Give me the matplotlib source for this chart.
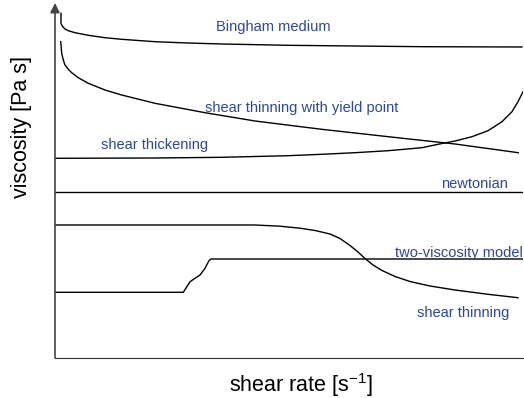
import matplotlib
matplotlib.use("Agg")
import matplotlib.pyplot as plt

plt.rcParams["font.family"] = ["Liberation Sans", "DejaVu Sans"]

# Flow curves (viscosity vs shear rate, arbitrary units)
bingham_x = [6, 6, 6.7, 8.3, 10, 13.3, 20, 33.3, 50, 66.7, 100, 133, 167,
             233, 300, 367, 467]
bingham_y = [344.7, 334.7, 333, 330.7, 329, 327.3, 325.3, 322.7, 320.3, 318.7,
             316.3, 315, 314, 312.7, 312, 311.3, 311]

yield_x = [5.7, 6.7, 8.3, 10, 13.3, 16.7, 23.3, 33.3, 50, 66.7, 100, 150,
           200, 266.7, 333.3, 400, 463.3]
yield_y = [316.3, 304.7, 298, 293, 288.7, 285.3, 280.3, 274.7, 268, 263,
           254.7, 245.3, 237, 228.7, 221.3, 214, 205.3]

thick_x = [0, 100, 167, 233, 267, 300, 333, 367, 383, 400, 417, 433, 447,
           457, 463, 468]
thick_y = [199.7, 200, 200.7, 202.3, 203.7, 205.3, 207.3, 210.3, 213.7, 217,
           221.3, 227.3, 236.3, 246.3, 256.3, 266.3]

newton_x = [0, 468]
newton_y = [166, 166]

thin_x = [0, 200, 225, 245, 260, 275, 285, 295, 303, 310, 318, 327, 340,
          355, 375, 400, 433, 463]
thin_y = [133, 133, 131.8, 129.8, 127.5, 124, 119.5, 112.5, 106, 99.5, 93,
          87.5, 81.5, 76.5, 72, 68, 63.7, 60.3]

twovisc_x = [0, 128.3, 135, 140, 145, 150, 154, 156, 468]
twovisc_y = [65.7, 65.7, 76.3, 79.7, 83, 89.7, 97.3, 99, 99]

label_color = "#2a45b0"

fig = plt.figure(figsize=(5.24, 3.98), dpi=100)
ax = fig.add_axes([55 / 524, 40 / 398, 468 / 524, 355 / 398])

for xs, ys in [(bingham_x, bingham_y), (yield_x, yield_y), (thick_x, thick_y),
               (newton_x, newton_y), (thin_x, thin_y), (twovisc_x, twovisc_y)]:
    ax.plot(xs, ys, color="black", lw=1.0, solid_joinstyle="round")

ax.set_xlim(0, 468)
ax.set_ylim(0, 355)

txt = dict(color=label_color, fontsize=10.5, va="center")
ax.text(218, 331, "Bingham medium", ha="center", **txt)
ax.text(150, 250, "shear thinning with yield point", ha="left", **txt)
ax.text(46, 213, "shear thickening", ha="left", **txt)
ax.text(453, 174, "newtonian", ha="right", **txt)
ax.text(468, 105, "two-viscosity model", ha="right", **txt)
ax.text(362, 45, "shear thinning", ha="left", **txt)

for side in ["top", "right", "left"]:
    ax.spines[side].set_visible(False)
ax.spines["bottom"].set_color("#333333")
ax.set_xticks([])
ax.set_yticks([])

# y axis drawn as an arrow
ax.annotate("", xy=(0, 355), xytext=(0, 0), xycoords="data",
            arrowprops=dict(arrowstyle="-|>", color="#444444", lw=1.2,
                            mutation_scale=14, shrinkA=0, shrinkB=0),
            annotation_clip=False)

fig.text(301 / 524, 1 - 385 / 398, r"shear rate [s$^{\mathregular{-1}}$]",
         ha="center", va="center", fontsize=15.5)
fig.text(22 / 524, 1 - 127 / 398, "viscosity [Pa s]", ha="center",
         va="center", rotation=90, fontsize=15.5)

fig.savefig("out.png", dpi=100)
